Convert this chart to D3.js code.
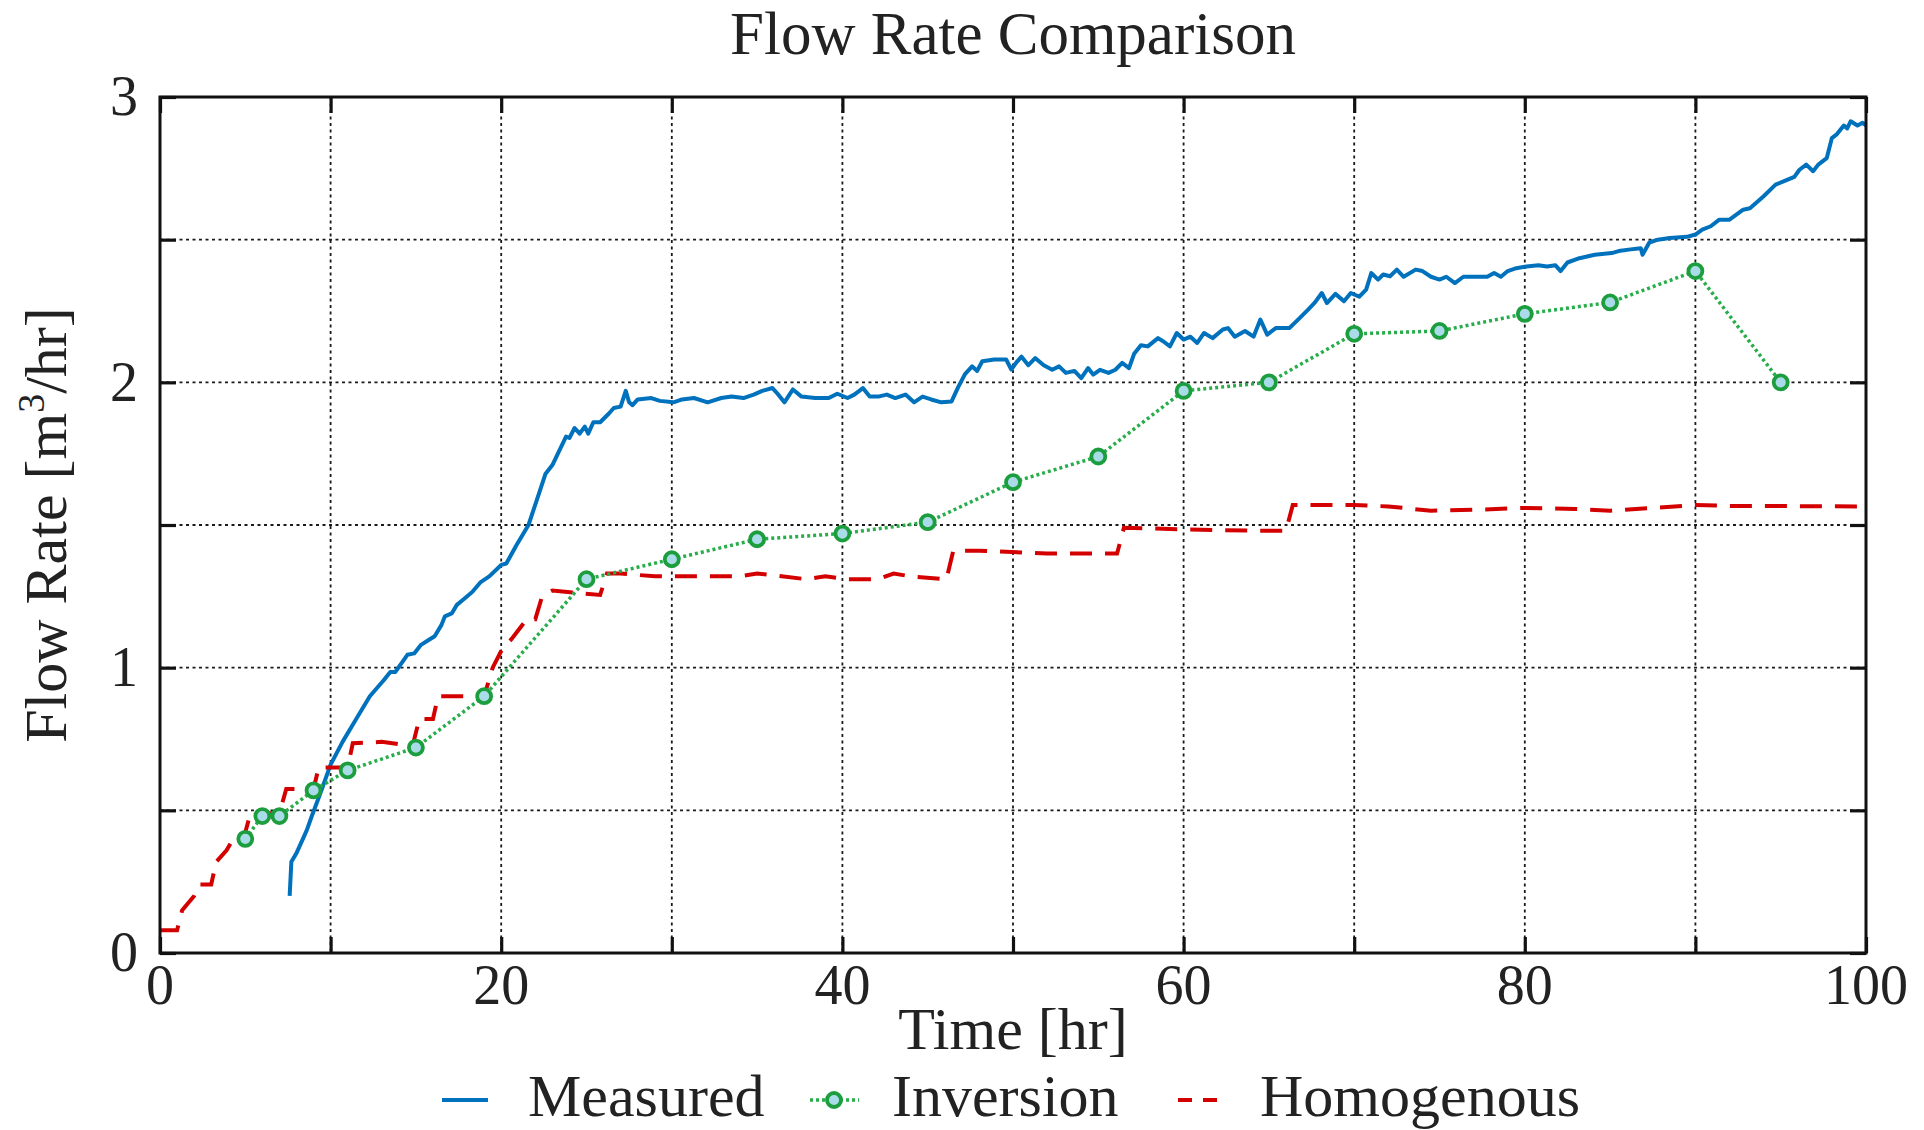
<!DOCTYPE html>
<html>
<head>
<meta charset="utf-8">
<script src="https://cdn.jsdelivr.net/npm/d3@7"></script>
<style>
  html, body { margin: 0; padding: 0; background: #fff; }
  svg { display: block; }
  text { font-family: "Liberation Serif", "Times New Roman", serif; fill: #222; }
</style>
</head>
<body>
<svg id="chart" width="1924" height="1130"></svg>
<script>
// Measured flow rate (time in hr, rate in m3/hr)
const measuredTime = [7.6,7.7,8.0,8.6,8.9,9.4,10.0,10.7,11.5,12.3,13.1,13.5,13.8,14.5,14.9,15.3,15.7,16.1,16.5,16.7,17.1,17.4,17.8,18.3,18.8,19.3,20.0,20.3,20.9,21.6,22.1,22.6,23.0,23.8,24.0,24.3,24.6,24.9,25.1,25.4,25.8,26.3,26.6,27.0,27.3,27.5,27.7,28.0,28.8,29.3,30.1,30.6,31.3,32.1,32.9,33.5,34.2,34.8,35.3,35.9,36.2,36.6,37.1,37.6,38.4,39.2,39.7,40.3,40.7,41.2,41.6,42.1,42.6,43.1,43.7,44.2,44.7,45.2,45.8,46.4,46.8,47.2,47.6,47.9,48.2,48.9,49.6,49.9,50.2,50.5,50.9,51.3,51.8,52.3,52.7,53.1,53.6,54.0,54.4,54.7,55.1,55.6,56.0,56.4,56.8,57.1,57.5,57.9,58.5,58.8,59.2,59.6,60.0,60.4,60.8,61.2,61.7,62.3,62.6,63.0,63.6,64.1,64.5,64.9,65.4,66.2,66.8,67.3,67.7,68.1,68.4,68.9,69.4,69.8,70.3,70.7,71.0,71.4,71.7,72.1,72.5,72.9,73.6,74.0,74.5,75.0,75.4,75.9,76.4,77.0,77.8,78.2,78.6,79.0,79.5,80.1,80.8,81.3,81.8,82.1,82.5,83.2,84.1,85.1,85.5,86.2,86.8,86.9,87.3,87.8,88.5,89.5,90.0,90.4,90.9,91.4,92.0,92.8,93.2,94.0,94.7,95.2,95.8,96.1,96.5,96.9,97.2,97.7,98.0,98.3,98.7,98.9,99.1,99.5,99.8,100];
const measuredRate = [0.20,0.32,0.35,0.43,0.48,0.56,0.66,0.74,0.82,0.90,0.955,0.985,0.985,1.045,1.05,1.08,1.095,1.11,1.15,1.18,1.19,1.22,1.24,1.265,1.30,1.32,1.36,1.365,1.43,1.50,1.59,1.68,1.71,1.81,1.805,1.84,1.82,1.845,1.82,1.86,1.86,1.89,1.91,1.915,1.97,1.93,1.92,1.94,1.945,1.935,1.93,1.94,1.945,1.93,1.945,1.95,1.945,1.957,1.97,1.98,1.96,1.93,1.975,1.95,1.945,1.945,1.96,1.945,1.957,1.98,1.95,1.95,1.957,1.945,1.957,1.93,1.95,1.94,1.93,1.933,1.985,2.03,2.056,2.04,2.074,2.08,2.08,2.045,2.07,2.09,2.06,2.085,2.06,2.044,2.056,2.033,2.04,2.015,2.05,2.027,2.044,2.033,2.044,2.068,2.05,2.10,2.13,2.126,2.155,2.144,2.126,2.173,2.15,2.16,2.138,2.173,2.155,2.185,2.19,2.16,2.18,2.16,2.22,2.167,2.19,2.19,2.225,2.255,2.28,2.313,2.278,2.31,2.284,2.313,2.30,2.325,2.383,2.36,2.378,2.372,2.395,2.37,2.395,2.39,2.37,2.36,2.37,2.348,2.37,2.37,2.37,2.383,2.37,2.39,2.40,2.406,2.41,2.406,2.41,2.39,2.42,2.435,2.447,2.453,2.46,2.466,2.47,2.447,2.49,2.50,2.506,2.51,2.518,2.535,2.547,2.57,2.57,2.605,2.61,2.652,2.693,2.705,2.72,2.745,2.763,2.74,2.763,2.786,2.856,2.87,2.90,2.89,2.915,2.90,2.91,2.90];

// Inversion estimates
const inversionTime = [5,6,7,9,11,15,19,25,30,35,40,45,50,55,60,65,70,75,80,85,90,95];
const inversionRate = [0.40,0.48,0.48,0.57,0.64,0.72,0.90,1.31,1.38,1.45,1.47,1.51,1.65,1.74,1.97,2.00,2.17,2.18,2.24,2.28,2.39,2.00];

// Homogenous model
const homogTime = [0,1.0,1.3,2.0,2.3,3.0,3.3,3.9,4.3,4.9,5.3,7.0,7.4,9.0,9.3,11.0,11.3,13.0,14.8,15.2,16.0,16.3,19.0,19.5,20.1,20.6,21.5,22.0,22.4,23.0,24.8,25.8,26.2,27.0,29.0,31.6,34.0,35.0,37.9,39.0,40.3,42.1,43.0,44.0,46.1,46.5,48.0,52.0,56.1,56.5,60.0,64.0,66.0,66.4,70.0,72.0,74.5,78.0,80.0,83.0,85.0,87.5,90.0,92.0,100];
const homogRate = [0.08,0.08,0.15,0.20,0.24,0.24,0.32,0.36,0.40,0.40,0.49,0.49,0.575,0.575,0.65,0.65,0.735,0.74,0.725,0.82,0.82,0.90,0.90,1.00,1.07,1.10,1.17,1.17,1.25,1.27,1.26,1.255,1.33,1.33,1.32,1.32,1.32,1.33,1.31,1.32,1.31,1.31,1.33,1.32,1.31,1.41,1.41,1.40,1.40,1.49,1.485,1.48,1.48,1.57,1.57,1.565,1.55,1.555,1.56,1.556,1.55,1.56,1.57,1.567,1.565];

const xTicks = [0,10,20,30,40,50,60,70,80,90,100];
const xTickLabels = [0,20,40,60,80,100];
const yTicks = [0,0.5,1,1.5,2,2.5,3];
const yTickLabels = [0,1,2,3];

const svg = d3.select("#chart");
const plotLeft = 160, plotRight = 1866, plotTop = 97, plotBottom = 953;

const x = d3.scaleLinear().domain([0, 100]).range([plotLeft, plotRight]);
const y = d3.scaleLinear().domain([0, 3]).range([plotBottom, plotTop]);

const blue = "#0072bd", green = "#1c9e3e", red = "#d40000", markerFill = "#a9dce8";

// grid
const grid = svg.append("g").attr("stroke", "#1a1a1a").attr("stroke-width", 1.8)
  .attr("stroke-dasharray", "3,3.5");
grid.selectAll(".gx").data(xTicks.slice(1, -1)).join("line").attr("class", "gx")
  .attr("x1", d => x(d)).attr("x2", d => x(d)).attr("y1", plotTop).attr("y2", plotBottom);
grid.selectAll(".gy").data(yTicks.slice(1, -1)).join("line").attr("class", "gy")
  .attr("y1", d => y(d)).attr("y2", d => y(d)).attr("x1", plotLeft).attr("x2", plotRight);

const line = d3.line().x(d => x(d[0])).y(d => y(d[1]));

// Measured
svg.append("path")
  .datum(d3.zip(measuredTime, measuredRate))
  .attr("d", line).attr("fill", "none").attr("stroke", blue)
  .attr("stroke-width", 4).attr("stroke-linejoin", "round");

// Homogenous
svg.append("path")
  .datum(d3.zip(homogTime, homogRate))
  .attr("d", line).attr("fill", "none").attr("stroke", red)
  .attr("stroke-width", 4).attr("stroke-dasharray", "22,13");

// Inversion
const inv = d3.zip(inversionTime, inversionRate);
svg.append("path")
  .datum(inv)
  .attr("d", line).attr("fill", "none").attr("stroke", "#27ad4a")
  .attr("stroke-width", 3.5).attr("stroke-dasharray", "3,3");
svg.append("g").selectAll("circle").data(inv).join("circle")
  .attr("cx", d => x(d[0])).attr("cy", d => y(d[1])).attr("r", 7)
  .attr("fill", markerFill).attr("stroke", green).attr("stroke-width", 3.8);

// axes: ticks point inwards on all four sides
const tickLen = 16;
const axB = d3.axisBottom(x).tickValues(xTicks).tickSizeInner(-tickLen).tickSizeOuter(0).tickFormat("");
const axT = d3.axisTop(x).tickValues(xTicks).tickSizeInner(-tickLen).tickSizeOuter(0).tickFormat("");
const axL = d3.axisLeft(y).tickValues(yTicks).tickSizeInner(-tickLen).tickSizeOuter(0).tickFormat("");
const axR = d3.axisRight(y).tickValues(yTicks).tickSizeInner(-tickLen).tickSizeOuter(0).tickFormat("");
[[axB, `translate(0,${plotBottom})`], [axT, `translate(0,${plotTop})`],
 [axL, `translate(${plotLeft},0)`], [axR, `translate(${plotRight},0)`]].forEach(([ax, tr]) => {
  const g = svg.append("g").attr("transform", tr).call(ax);
  g.select(".domain").remove();
  g.selectAll(".tick line").attr("stroke", "#111").attr("stroke-width", 3.2);
});

svg.append("rect").attr("x", plotLeft).attr("y", plotTop)
  .attr("width", plotRight - plotLeft).attr("height", plotBottom - plotTop)
  .attr("fill", "none").attr("stroke", "#111").attr("stroke-width", 3);

// tick labels
svg.append("g").selectAll("text").data(xTickLabels).join("text")
  .attr("x", d => x(d)).attr("y", 1004).attr("text-anchor", "middle")
  .attr("font-size", 56).text(d => d);
svg.append("g").selectAll("text").data(yTickLabels).join("text")
  .attr("x", 138).attr("y", d => y(d)).attr("dy", "0.33em").attr("text-anchor", "end")
  .attr("font-size", 56).text(d => d);

// title and axis titles
svg.append("text").attr("x", (plotLeft + plotRight) / 2).attr("y", 54)
  .attr("text-anchor", "middle").attr("font-size", 61).text("Flow Rate Comparison");
svg.append("text").attr("x", (plotLeft + plotRight) / 2).attr("y", 1049)
  .attr("text-anchor", "middle").attr("font-size", 60).text("Time [hr]");
const yl = svg.append("text")
  .attr("transform", `translate(66,${(plotTop + plotBottom) / 2}) rotate(-90)`)
  .attr("text-anchor", "middle").attr("font-size", 60);
yl.append("tspan").text("Flow Rate [m");
yl.append("tspan").attr("font-size", 38).attr("dy", -22).text("3");
yl.append("tspan").attr("dy", 22).text("/hr]");

// legend
const ly = 1100, lt = 1116;
svg.append("line").attr("x1", 442).attr("x2", 488).attr("y1", ly).attr("y2", ly)
  .attr("stroke", blue).attr("stroke-width", 4);
svg.append("text").attr("x", 528).attr("y", lt).attr("font-size", 60).text("Measured");
svg.append("line").attr("x1", 810).attr("x2", 859).attr("y1", ly).attr("y2", ly)
  .attr("stroke", "#27ad4a").attr("stroke-width", 3.5).attr("stroke-dasharray", "3,3");
svg.append("circle").attr("cx", 834).attr("cy", ly).attr("r", 7)
  .attr("fill", markerFill).attr("stroke", green).attr("stroke-width", 3.8);
svg.append("text").attr("x", 892).attr("y", lt).attr("font-size", 60).text("Inversion");
svg.append("line").attr("x1", 1178).attr("x2", 1217).attr("y1", ly).attr("y2", ly)
  .attr("stroke", red).attr("stroke-width", 4).attr("stroke-dasharray", "14,11");
svg.append("text").attr("x", 1260).attr("y", lt).attr("font-size", 60).text("Homogenous");
</script>
</body>
</html>
